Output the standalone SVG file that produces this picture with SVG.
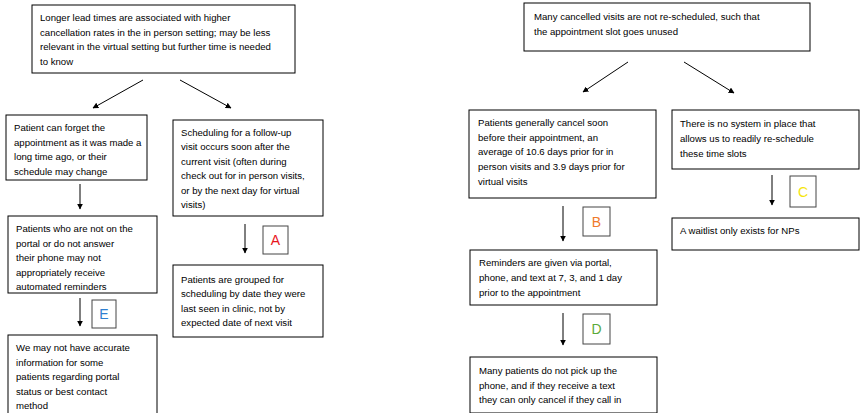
<svg xmlns="http://www.w3.org/2000/svg" width="860" height="413" viewBox="0 0 860 413">
<defs>
<marker id="ah" viewBox="0 0 10 10" refX="9" refY="5" markerWidth="6" markerHeight="6" orient="auto" markerUnits="userSpaceOnUse">
<path d="M0,0 L10,5 L0,10 z" fill="#000"/>
</marker>
<style>
.box{fill:#fff;stroke:#000;stroke-width:1}
.lbox{fill:#fff;stroke:#444;stroke-width:1}
text{font-family:"Liberation Sans",Arial,sans-serif;font-size:9.6px;fill:#000}
.let{font-size:14px;text-anchor:middle}
.con{stroke:#000;stroke-width:1;fill:none;marker-end:url(#ah)}
</style>
</defs>
<rect width="860" height="413" fill="#fff"/>
<g id="connectors">
<line class="con" x1="143" y1="80" x2="93" y2="108"/>
<line class="con" x1="180" y1="80" x2="231" y2="108"/>
<line class="con" x1="80" y1="184" x2="80" y2="209"/>
<line class="con" x1="80" y1="298" x2="80" y2="326"/>
<line class="con" x1="245" y1="224" x2="245" y2="253"/>
<line class="con" x1="628" y1="62" x2="583" y2="92"/>
<line class="con" x1="684" y1="62" x2="734" y2="93"/>
<line class="con" x1="563" y1="206" x2="563" y2="241"/>
<line class="con" x1="563" y1="313" x2="563" y2="345"/>
<line class="con" x1="772" y1="175" x2="772" y2="205"/>
</g>
<g id="n1">
<rect class="box" x="32" y="5" width="263" height="68"/>
<text x="40" y="21">Longer lead times are associated with higher</text>
<text x="40" y="36">cancellation rates in the in person setting; may be less</text>
<text x="40" y="50">relevant in the virtual setting but further time is needed</text>
<text x="40" y="65">to know</text>
</g>
<g id="n2">
<rect class="box" x="6" y="115" width="141" height="65"/>
<text x="14" y="131">Patient can forget the</text>
<text x="14" y="146">appointment as it was made a</text>
<text x="14" y="160">long time ago, or their</text>
<text x="14" y="175">schedule may change</text>
</g>
<g id="n3">
<rect class="box" x="8" y="216" width="149" height="77"/>
<text x="16" y="232">Patients who are not on the</text>
<text x="16" y="247">portal or do not answer</text>
<text x="16" y="261">their phone may not</text>
<text x="16" y="276">appropriately receive</text>
<text x="16" y="290">automated reminders</text>
</g>
<g id="labelE">
<rect class="lbox" x="92" y="300" width="24" height="28"/>
<text class="let" x="104" y="319" fill="#2f7fd0" style="fill:#2f7fd0">E</text>
</g>
<g id="n4">
<rect class="box" x="8" y="335" width="149" height="82"/>
<text x="16" y="351">We may not have accurate</text>
<text x="16" y="366">information for some</text>
<text x="16" y="380">patients regarding portal</text>
<text x="16" y="395">status or best contact</text>
<text x="16" y="409">method</text>
</g>
<g id="n5">
<rect class="box" x="173" y="120" width="150" height="96"/>
<text x="181" y="136">Scheduling for a follow-up</text>
<text x="181" y="150">visit occurs soon after the</text>
<text x="181" y="165">current visit (often during</text>
<text x="181" y="179">check out for in person visits,</text>
<text x="181" y="194">or by the next day for virtual</text>
<text x="181" y="208">visits)</text>
</g>
<g id="labelA">
<rect class="lbox" x="263" y="226" width="25" height="28"/>
<text class="let" x="275.5" y="245" style="fill:#e8141c">A</text>
</g>
<g id="n6">
<rect class="box" x="173" y="265" width="150" height="72"/>
<text x="181" y="283">Patients are grouped for</text>
<text x="181" y="297">scheduling by date they were</text>
<text x="181" y="312">last seen in clinic, not by</text>
<text x="181" y="326">expected date of next visit</text>
</g>
<g id="n7">
<rect class="box" x="524" y="3" width="286" height="48"/>
<text x="534" y="20">Many cancelled visits are not re-scheduled, such that</text>
<text x="534" y="35">the appointment slot goes unused</text>
</g>
<g id="n8">
<rect class="box" x="469" y="110" width="187" height="88"/>
<text x="478" y="126">Patients generally cancel soon</text>
<text x="478" y="141">before their appointment, an</text>
<text x="478" y="155">average of 10.6 days prior for in</text>
<text x="478" y="170">person visits and 3.9 days prior for</text>
<text x="478" y="185">virtual visits</text>
</g>
<g id="labelB">
<rect class="lbox" x="583" y="207" width="27" height="29"/>
<text class="let" x="596.5" y="227" style="fill:#f07a2a">B</text>
</g>
<g id="n9">
<rect class="box" x="470" y="250" width="187" height="55"/>
<text x="479" y="266">Reminders are given via portal,</text>
<text x="479" y="281">phone, and text at 7, 3, and 1 day</text>
<text x="479" y="296">prior to the appointment</text>
</g>
<g id="labelD">
<rect class="lbox" x="583" y="314" width="27" height="30"/>
<text class="let" x="596.5" y="334" style="fill:#5aaa3a">D</text>
</g>
<g id="n10">
<rect class="box" x="470" y="357" width="187" height="56"/>
<text x="479" y="374">Many patients do not pick up the</text>
<text x="479" y="389">phone, and if they receive a text</text>
<text x="479" y="403">they can only cancel if they call in</text>
</g>
<g id="n11">
<rect class="box" x="672" y="110" width="187" height="59"/>
<text x="680" y="127">There is no system in place that</text>
<text x="680" y="142">allows us to readily re-schedule</text>
<text x="680" y="157">these time slots</text>
</g>
<g id="labelC">
<rect class="lbox" x="790" y="176" width="26" height="31"/>
<text class="let" x="803" y="197" style="fill:#f5e50a">C</text>
</g>
<g id="n12">
<rect class="box" x="672" y="218" width="187" height="32"/>
<text x="680" y="234">A waitlist only exists for NPs</text>
</g>
</svg>
